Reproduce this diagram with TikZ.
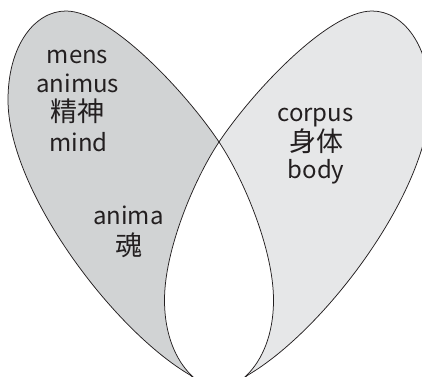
\documentclass[tikz,border=0pt]{standalone}
\usepackage{fontspec}
\setmainfont{Noto Sans CJK JP}
\definecolor{leftgray}{RGB}{209,211,212}
\definecolor{rightgray}{RGB}{230,231,232}
\definecolor{inkgray}{RGB}{35,31,32}
\begin{document}
\begin{tikzpicture}[x=1pt,y=-1pt,
  outline/.style={draw=inkgray,line width=0.75pt},
  latin/.style={anchor=base,inner sep=0pt,text=inkgray,font=\fontsize{24}{30}\selectfont},
  cjk/.style={anchor=base,inner sep=0pt,text=inkgray,font=\fontsize{27}{30}\selectfont}]
\useasboundingbox (0,0) rectangle (422,376);
\begin{scope}
\clip (0,0) rectangle (422,376);
% left leaf
\fill[leftgray] (8,100) .. controls (8,45) and (35,11) .. (66,11)
  .. controls (110,11) and (185.7,92.1) .. (219,142)
  .. controls (244,179.4) and (273.5,250) .. (273.5,300)
  .. controls (273.5,335) and (262,360) .. (247,375)
  .. controls (235,387) and (228,393) .. (215,393)
  .. controls (205,393) and (198,380) .. (190,375)
  .. controls (112.4,329.4) and (8,190) .. (8,100) -- cycle;
% right leaf
\fill[rightgray] (430,100) .. controls (430,45) and (403,11) .. (372,11)
  .. controls (328,11) and (252.3,92.1) .. (219,142)
  .. controls (194,179.4) and (164.5,250) .. (164.5,300)
  .. controls (164.5,335) and (176,360) .. (191,375)
  .. controls (203,387) and (210,393) .. (223,393)
  .. controls (233,393) and (240,380) .. (248,375)
  .. controls (325.6,329.4) and (430,190) .. (430,100) -- cycle;
% overlap
\begin{scope}
\clip (8,100) .. controls (8,45) and (35,11) .. (66,11)
  .. controls (110,11) and (185.7,92.1) .. (219,142)
  .. controls (244,179.4) and (273.5,250) .. (273.5,300)
  .. controls (273.5,335) and (262,360) .. (247,375)
  .. controls (235,387) and (228,393) .. (215,393)
  .. controls (205,393) and (198,380) .. (190,375)
  .. controls (112.4,329.4) and (8,190) .. (8,100) -- cycle;
\fill[white] (430,100) .. controls (430,45) and (403,11) .. (372,11)
  .. controls (328,11) and (252.3,92.1) .. (219,142)
  .. controls (194,179.4) and (164.5,250) .. (164.5,300)
  .. controls (164.5,335) and (176,360) .. (191,375)
  .. controls (203,387) and (210,393) .. (223,393)
  .. controls (233,393) and (240,380) .. (248,375)
  .. controls (325.6,329.4) and (430,190) .. (430,100) -- cycle;
\end{scope}
\draw[outline] (8,100) .. controls (8,45) and (35,11) .. (66,11)
  .. controls (110,11) and (185.7,92.1) .. (219,142)
  .. controls (244,179.4) and (273.5,250) .. (273.5,300)
  .. controls (273.5,335) and (262,360) .. (247,375)
  .. controls (235,387) and (228,393) .. (215,393)
  .. controls (205,393) and (198,380) .. (190,375)
  .. controls (112.4,329.4) and (8,190) .. (8,100) -- cycle;
\draw[outline] (430,100) .. controls (430,45) and (403,11) .. (372,11)
  .. controls (328,11) and (252.3,92.1) .. (219,142)
  .. controls (194,179.4) and (164.5,250) .. (164.5,300)
  .. controls (164.5,335) and (176,360) .. (191,375)
  .. controls (203,387) and (210,393) .. (223,393)
  .. controls (233,393) and (240,380) .. (248,375)
  .. controls (325.6,329.4) and (430,190) .. (430,100) -- cycle;
\end{scope}
% texts
\node[latin] (mens) at (77.5,63.3) {mens};
\node[latin] (animus) at (77.8,92.3) {animus};
\node[cjk] (seishin) at (77.3,121.5) {精神};
\node[latin] (mind) at (78.7,151) {mind};
\node[latin] (anima) at (128.3,224) {anima};
\node[cjk] (tamashii) at (128.7,255.3) {魂};
\node[latin] (corpus) at (315.5,121.7) {corpus};
\node[cjk] (shintai) at (316.7,151.5) {身体};
\node[latin] (body) at (316,178) {body};
\end{tikzpicture}
\end{document}
